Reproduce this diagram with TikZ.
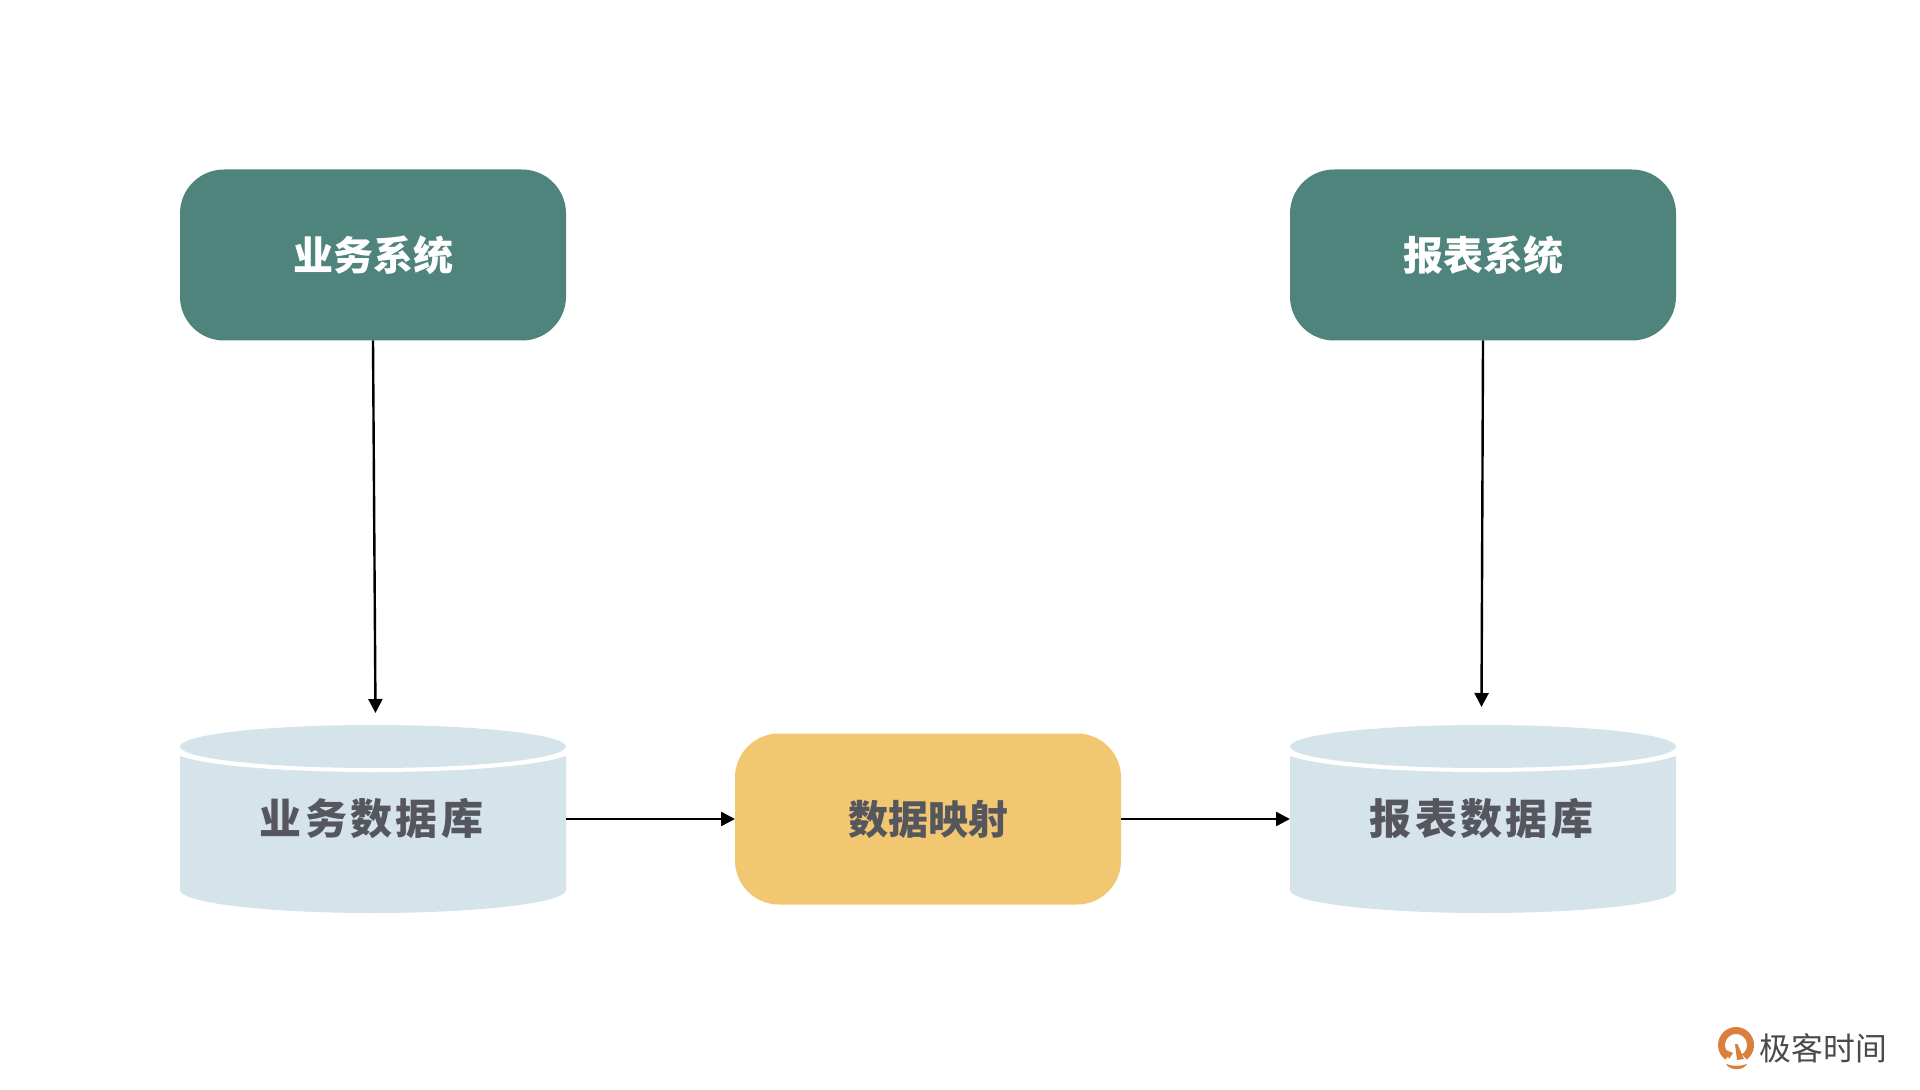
\documentclass[tikz,border=0pt]{standalone}
\usepackage{fontspec}
\usetikzlibrary{arrows.meta}
\newfontfamily\cjk{Noto Sans CJK SC}
\newfontfamily\cjkspaced[LetterSpace=8]{Noto Sans CJK SC}
\definecolor{tealbox}{HTML}{4E847C}
\definecolor{amberbox}{HTML}{F2C771}
\definecolor{dbblue}{HTML}{D5E3EB}
\definecolor{dbtext}{HTML}{55565E}
\definecolor{logoorange}{HTML}{D9803F}
\definecolor{logotext}{HTML}{4A4A4A}
\tikzset{
  x=0.5pt, y=-0.5pt,
  procbox/.style={rounded corners=22pt, minimum width=193pt, minimum height=85.5pt,
    inner sep=0pt, outer sep=0pt, font=\cjk\bfseries\fontsize{20}{24}\selectfont},
  appbox/.style={procbox, fill=tealbox, text=white},
  mapbox/.style={procbox, fill=amberbox, text=dbtext},
  dbnode/.style={minimum width=193pt, minimum height=85.5pt, inner sep=0pt, outer sep=0pt,
    text=dbtext, font=\cjkspaced\bfseries\fontsize{21}{24}\selectfont},
  flow/.style={-{Triangle[length=7pt,width=7pt]}, line width=1.2pt, black},
}
% Cylinder body with its detached top disc, centred on column #1
\newcommand{\dbdrum}[1]{
  \fill[dbblue] (#1-193,750) -- (#1-193,890) arc[start angle=180, end angle=0, x radius=193, y radius=23]
    -- (#1+193,750) -- cycle;
  \fill[white] (#1,750) ellipse[x radius=200, y radius=22];
  \fill[dbblue] (#1,746.5) ellipse[x radius=193, y radius=21.5];
}
\begin{document}
\begin{tikzpicture}
\useasboundingbox (0,0) rectangle (1920,1090);
\fill[white] (0,0) rectangle (1920,1090);

\dbdrum{373}
\dbdrum{1483}

\node[appbox] (biz) at (373,255) {业务系统};
\node[appbox] (rep) at (1483,255) {报表系统};
\node[mapbox] (map) at (928,819) {数据映射};
\node[dbnode] (bizdb) at (373,819) {\kern-1.5pt 业务数据库};
\node[dbnode] (repdb) at (1483,819) {\kern-1.5pt 报表数据库};

\coordinate (bizin) at (375.5,713);
\coordinate (repin) at (1481.5,707);

\draw[flow] (biz.south) -- (bizin);
\draw[flow] (rep.south) -- (repin);
\draw[flow] (bizdb.east) -- (map.west);
\draw[flow] (map.east) -- (repdb.west);

% Brand mark: open ring, inner needle and lower crescent
\draw[logoorange, line width=3.5pt]
  (1727.7,1056.9) arc[start angle=125, end angle=415, radius=14.5];
\fill[logoorange] (1735,1044) -- (1737.5,1044) -- (1744,1059) -- (1737,1060) -- cycle;
\fill[logoorange] (1726,1050) -- (1733,1053) -- (1729,1059) -- cycle;
\fill[logoorange] (1726,1064) .. controls (1733,1066.5) and (1740,1066.5) .. (1747,1064)
  .. controls (1743,1071) and (1730,1071) .. (1726,1064) -- cycle;
\node[inner sep=0pt, text=logotext, font=\cjk\fontsize{15.9}{18}\selectfont] (brand) at (1823.5,1048) {极客时间};
\end{tikzpicture}
\end{document}
